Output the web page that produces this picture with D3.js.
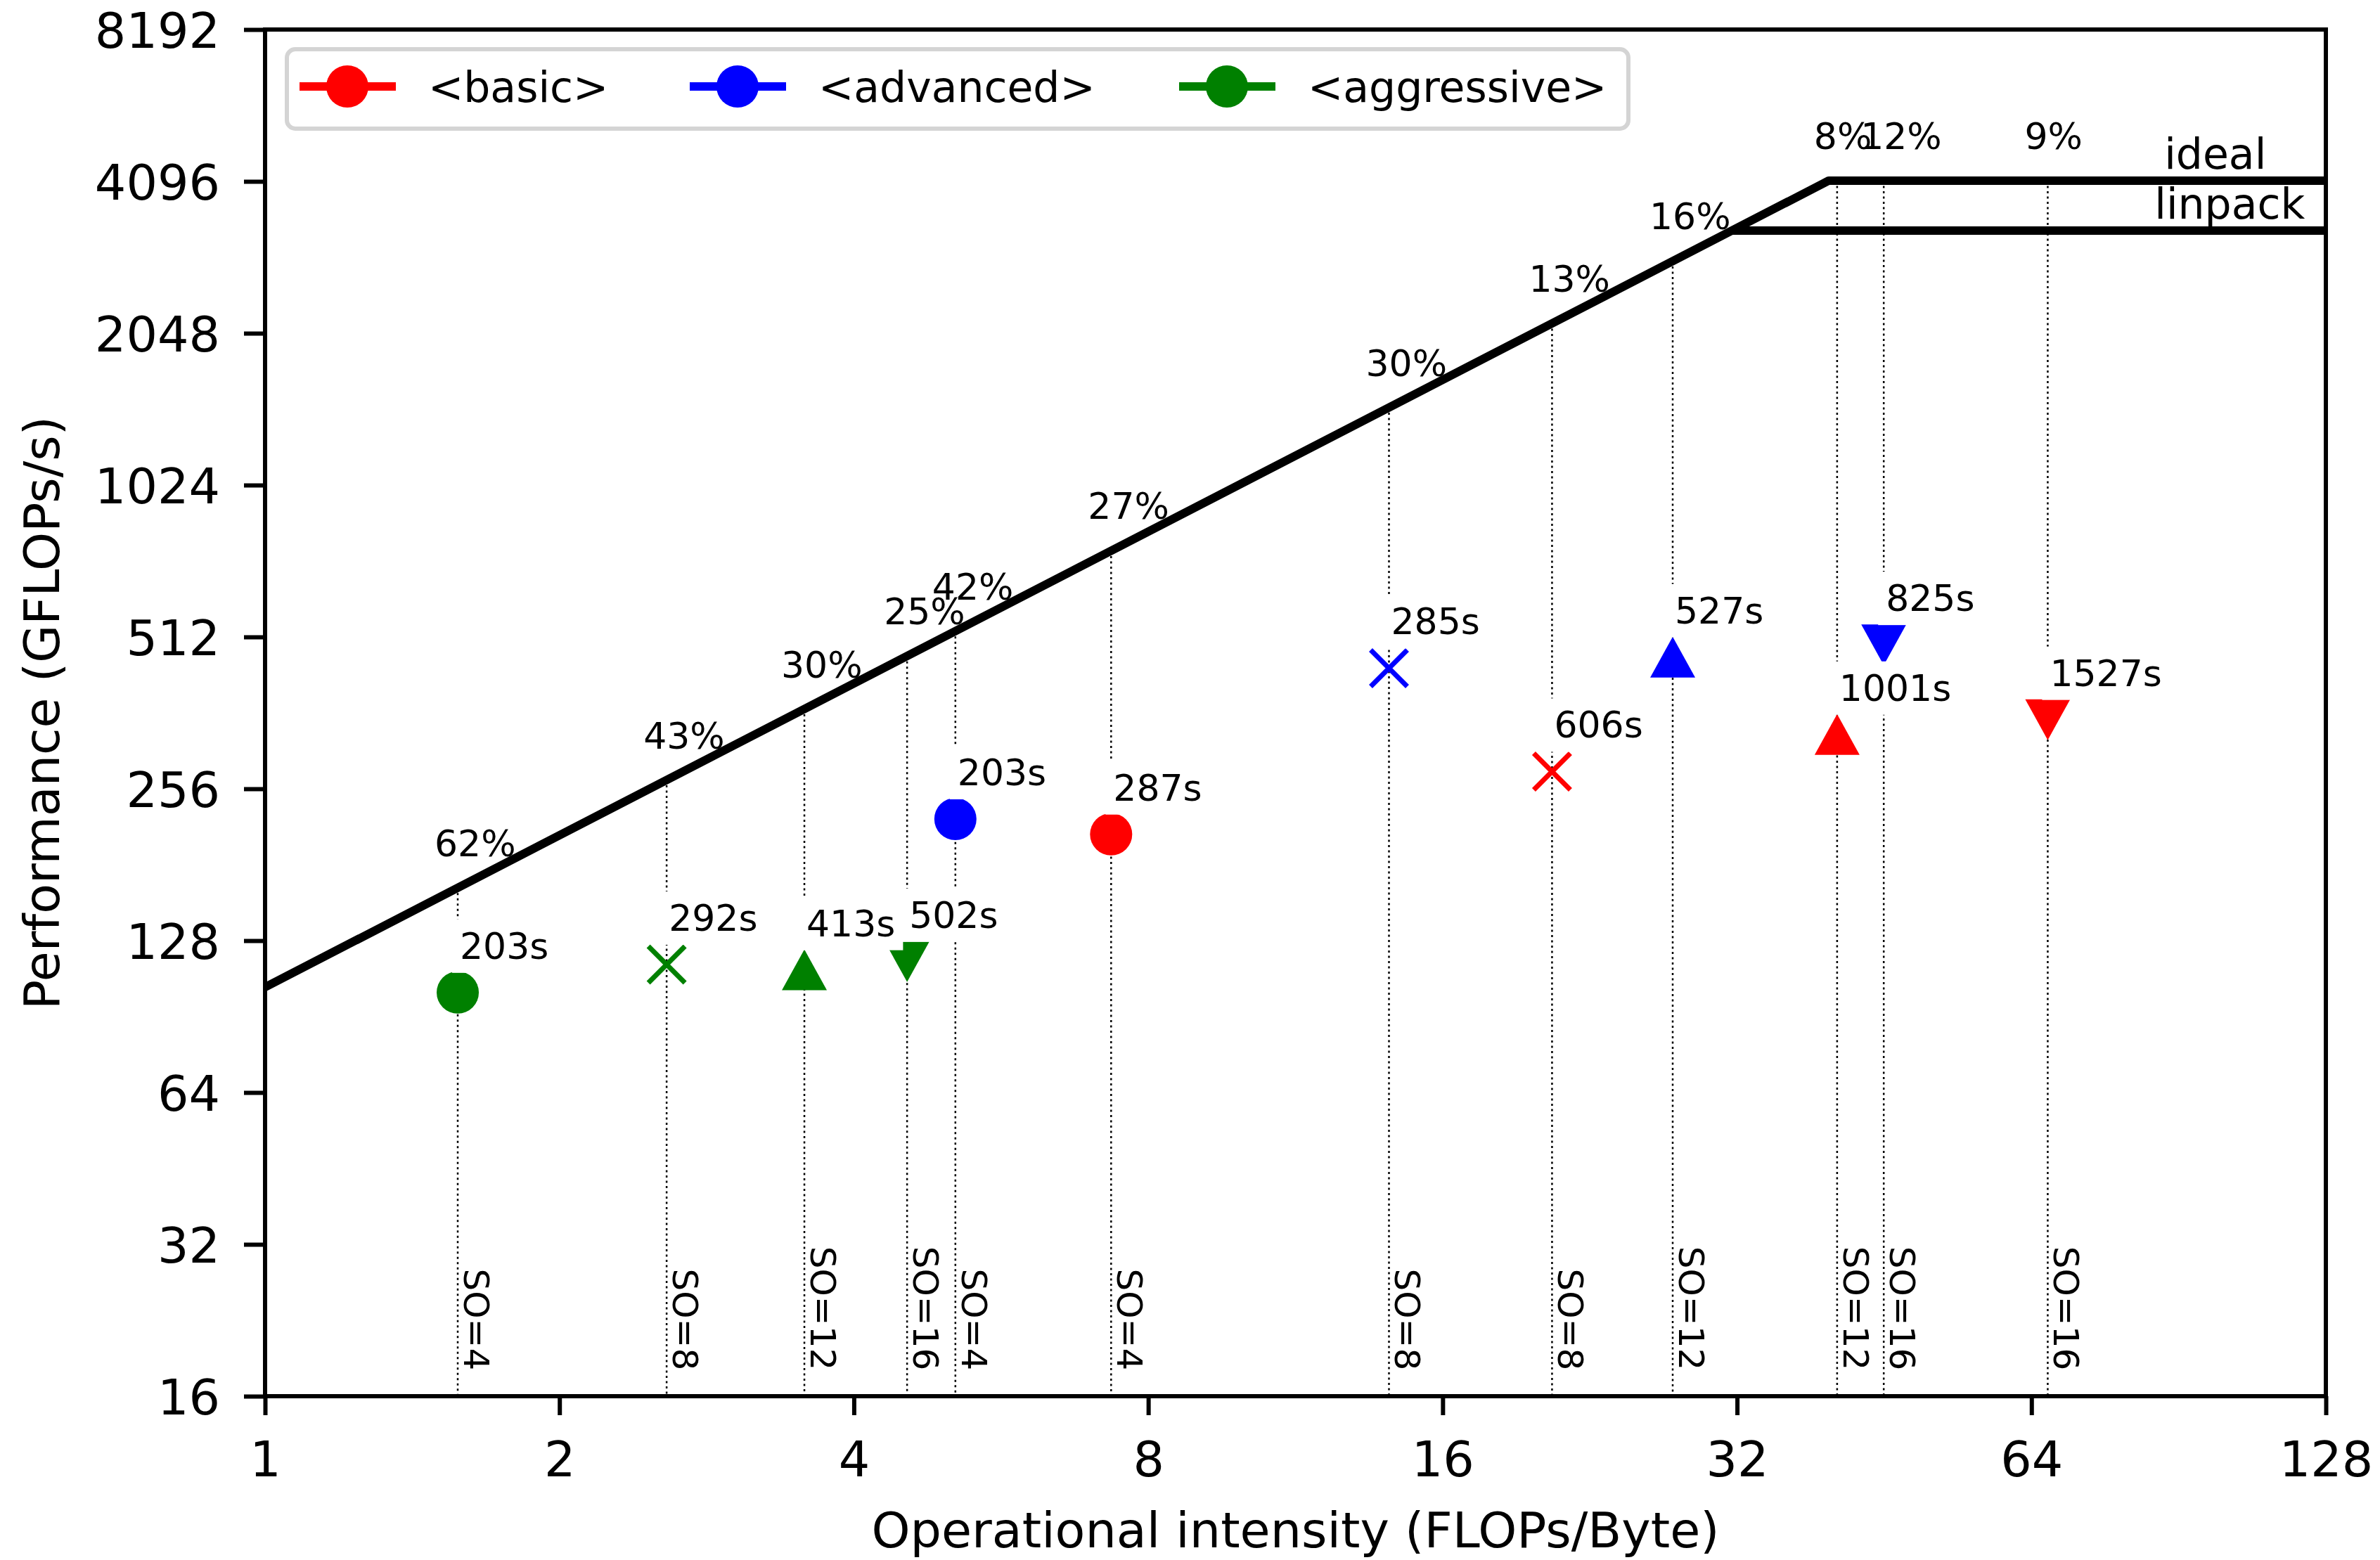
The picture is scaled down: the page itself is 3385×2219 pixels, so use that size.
<!DOCTYPE html>
<html>
<head>
<meta charset="utf-8">
<script src="https://cdn.jsdelivr.net/npm/d3@7"></script>
<style>
  body { margin: 0; background: #fff; }
  svg { display: block; font-family: "DejaVu Sans", sans-serif; }
</style>
</head>
<body>
<svg id="chart"></svg>
<script>
// Variants and their styles
const variants = ["<basic>", "<advanced>", "<aggressive>"];
const variantColors = ["#ff0000", "#0000ff", "#008000"];
const spaceOrders = [4, 8, 12, 16];
const markerShapes = ["circle", "x", "triangle-up", "triangle-down"];

// Measured points, one entry per space order (4, 8, 12, 16)
const basicIntensity = [7.33, 20.7, 40.5, 66.5];
const basicPerf = [208, 277, 328, 351];
const basicTime = ["287s", "606s", "1001s", "1527s"];
const basicShare = ["27%", "13%", "8%", "9%"];

const advancedIntensity = [5.08, 14.1, 27.5, 45.2];
const advancedPerf = [223, 444, 467, 494];
const advancedTime = ["203s", "285s", "527s", "825s"];
const advancedShare = ["42%", "30%", "16%", "12%"];

const aggressiveIntensity = [1.574, 2.574, 3.56, 4.534];
const aggressivePerf = [101, 114.8, 112, 116.3];
const aggressiveTime = ["203s", "292s", "413s", "502s"];
const aggressiveShare = ["62%", "43%", "30%", "25%"];

// Roofline: memory bandwidth (GB/s) and compute ceilings (GFLOPs/s)
const bandwidth = 103.5;
const peakPerf = [4110, 3272];
const peakNames = ["ideal", "linpack"];

// Tick values
const xTicks = [1, 2, 4, 8, 16, 32, 64, 128];
const yTicks = [16, 32, 64, 128, 256, 512, 1024, 2048, 4096, 8192];

// Figure setup
const width = 3385;
const height = 2219;
const plot = { left: 377, right: 3308, top: 42, bottom: 1986 };

const svg = d3.select("#chart").attr("width", width).attr("height", height);
svg.append("rect").attr("width", width).attr("height", height).attr("fill", "#fff");

const x = d3.scaleLog().base(2).domain([1, 128]).range([plot.left, plot.right]);
const y = d3.scaleLog().base(2).domain([16, 8192]).range([plot.bottom, plot.top]);

svg.append("clipPath").attr("id", "plotClip")
  .append("rect")
  .attr("x", plot.left).attr("y", plot.top)
  .attr("width", plot.right - plot.left).attr("height", plot.bottom - plot.top);

// Gather points into one list
const groups = [
  [basicIntensity, basicPerf, basicTime, basicShare],
  [advancedIntensity, advancedPerf, advancedTime, advancedShare],
  [aggressiveIntensity, aggressivePerf, aggressiveTime, aggressiveShare],
];
const points = [];
groups.forEach(([xs, ys, ts, ps], gi) => {
  xs.forEach((v, i) => {
    points.push({
      oi: v, perf: ys[i], time: ts[i], share: ps[i],
      so: spaceOrders[i], shape: markerShapes[i], color: variantColors[gi],
    });
  });
});

const roof = (oi) => Math.min(bandwidth * oi, peakPerf[0]);

// Dotted guide lines from roof down to the x axis
svg.append("g")
  .selectAll("line")
  .data(points)
  .enter()
  .append("line")
  .attr("x1", (d) => x(d.oi))
  .attr("x2", (d) => x(d.oi))
  .attr("y1", (d) => y(roof(d.oi)))
  .attr("y2", y(16))
  .attr("stroke", "#000")
  .attr("stroke-width", 2.5)
  .attr("stroke-dasharray", "3,4.5");

// SO labels, rotated
svg.append("g")
  .selectAll("text")
  .data(points)
  .enter()
  .append("text")
  .attr("transform", (d) => `translate(${x(d.oi) + 9},${y(18)}) rotate(90)`)
  .attr("text-anchor", "end")
  .style("font-size", "50px")
  .text((d) => `SO=${d.so}`);

// Roofline
const roofG = svg.append("g").attr("clip-path", "url(#plotClip)");
const line = d3.line().x((d) => x(d[0])).y((d) => y(d[1]));
const ridgeIdeal = peakPerf[0] / bandwidth;
const ridgeLinpack = peakPerf[1] / bandwidth;
roofG.append("path")
  .attr("d", line([[1, bandwidth], [ridgeIdeal, peakPerf[0]], [128, peakPerf[0]]]))
  .attr("fill", "none").attr("stroke", "#000").attr("stroke-width", 12)
  .attr("stroke-linejoin", "round");
roofG.append("path")
  .attr("d", line([[ridgeLinpack, peakPerf[1]], [128, peakPerf[1]]]))
  .attr("fill", "none").attr("stroke", "#000").attr("stroke-width", 12);

// Ceiling names
const nameAt = [87.5, 85.5];
svg.append("g")
  .selectAll("text")
  .data(peakPerf)
  .enter()
  .append("text")
  .attr("x", (d, i) => x(nameAt[i]))
  .attr("y", (d) => y(d) - 17)
  .style("font-size", "60px")
  .text((d, i) => peakNames[i]);

// Percent of peak, on the roof
svg.append("g")
  .selectAll("text")
  .data(points)
  .enter()
  .append("text")
  .attr("x", (d) => x(d.oi) - 33)
  .attr("y", (d) => y(roof(d.oi)) - 45)
  .style("font-size", "52px")
  .text((d) => d.share);

// Markers
const markerPath = (shape) => {
  if (shape === "triangle-up") return "M0,-29L32,29L-32,29Z";
  if (shape === "triangle-down") return "M0,29L32,-29L-32,-29Z";
  return "M-26,-26L26,26M-26,26L26,-26";
};
const markers = svg.append("g")
  .selectAll("g")
  .data(points)
  .enter()
  .append("g")
  .attr("transform", (d) => `translate(${x(d.oi)},${y(d.perf)})`);
markers.each(function (d) {
  const g = d3.select(this);
  if (d.shape === "circle") {
    g.append("circle").attr("r", 30).attr("fill", d.color);
  } else if (d.shape === "x") {
    g.append("path").attr("d", markerPath(d.shape))
      .attr("stroke", d.color).attr("stroke-width", 7).attr("fill", "none");
  } else {
    g.append("path").attr("d", markerPath(d.shape)).attr("fill", d.color);
  }
});

// Runtime labels with white boxes
const timeLabels = svg.append("g")
  .selectAll("g")
  .data(points)
  .enter()
  .append("g");
timeLabels.each(function (d) {
  const g = d3.select(this);
  const bg = g.append("rect").attr("fill", "#fff");
  const t = g.append("text")
    .attr("x", x(d.oi) + 3)
    .attr("y", y(d.perf) - 48)
    .style("font-size", "52px")
    .text(d.time);
  const b = t.node().getBBox();
  bg.attr("x", b.x - 11).attr("y", b.y - 8)
    .attr("width", b.width + 22).attr("height", b.height + 16);
});

// Axes
const xAxis = d3.axisBottom(x)
  .tickValues(xTicks)
  .tickFormat(d3.format("d"))
  .tickSize(27)
  .tickPadding(37);
const yAxis = d3.axisLeft(y)
  .tickValues(yTicks)
  .tickFormat(d3.format("d"))
  .tickSize(30)
  .tickPadding(34);

const gx = svg.append("g").attr("transform", `translate(0,${plot.bottom})`).call(xAxis);
const gy = svg.append("g").attr("transform", `translate(${plot.left},0)`).call(yAxis);
[gx, gy].forEach((g) => {
  g.select(".domain").remove();
  g.selectAll(".tick line").attr("stroke", "#000").attr("stroke-width", 6);
  g.selectAll(".tick text")
    .attr("fill", "#000")
    .style("font-size", "70px")
    .style("font-family", "DejaVu Sans, sans-serif");
});
gy.selectAll(".tick text").attr("dy", "0.36em");

// Frame
svg.append("rect")
  .attr("x", plot.left).attr("y", plot.top)
  .attr("width", plot.right - plot.left).attr("height", plot.bottom - plot.top)
  .attr("fill", "none").attr("stroke", "#000").attr("stroke-width", 6);

// Axis titles
svg.append("text")
  .attr("x", (plot.left + plot.right) / 2)
  .attr("y", 2201)
  .attr("text-anchor", "middle")
  .style("font-size", "70px")
  .text("Operational intensity (FLOPs/Byte)");
svg.append("text")
  .attr("transform", `translate(84,${(plot.top + plot.bottom) / 2}) rotate(-90)`)
  .attr("text-anchor", "middle")
  .style("font-size", "70px")
  .text("Performance (GFLOPs/s)");

// Legend
const legend = svg.append("g");
legend.append("rect")
  .attr("x", 408).attr("y", 70).attr("width", 1908).attr("height", 113)
  .attr("rx", 12)
  .attr("fill", "#fff").attr("fill-opacity", 0.8)
  .attr("stroke", "#d4d4d4").attr("stroke-width", 6);
const legendX = [426, 981, 1677];
const item = legend.selectAll("g.item")
  .data(variants)
  .enter()
  .append("g")
  .attr("class", "item")
  .attr("transform", (d, i) => `translate(${legendX[i]},123)`);
item.append("line")
  .attr("x1", 0).attr("x2", 137)
  .attr("stroke", (d, i) => variantColors[i]).attr("stroke-width", 12);
item.append("circle")
  .attr("cx", 68).attr("r", 30)
  .attr("fill", (d, i) => variantColors[i]);
item.append("text")
  .attr("x", 183).attr("y", 22)
  .style("font-size", "60px")
  .text((d) => d);
</script>
</body>
</html>
